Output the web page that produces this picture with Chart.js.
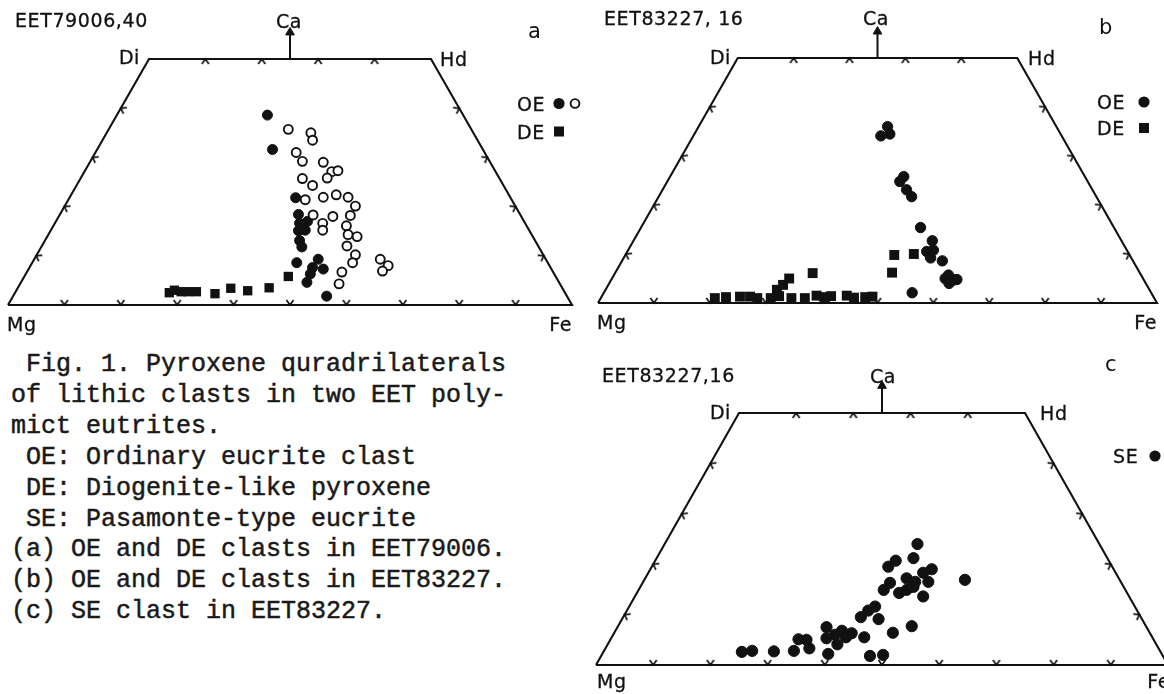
<!DOCTYPE html>
<html>
<head>
<meta charset="utf-8">
<script src="https://cdn.jsdelivr.net/npm/chart.js@4.4.1/dist/chart.umd.min.js"></script>
<style>
html, body { margin: 0; padding: 0; background: #fff; width: 1164px; height: 694px; overflow: hidden; }
body { position: relative; }
canvas { position: absolute; }
.t { position: absolute; font-family: "DejaVu Sans", sans-serif; font-size: 19px; letter-spacing: 0.6px; line-height: 20px; color: #111; white-space: nowrap; -webkit-text-stroke: 0.3px #111; }
.lt { position: absolute; font-family: "DejaVu Sans", sans-serif; font-size: 21px; line-height: 24px; color: #111; }
#cap { position: absolute; left: 11px; top: 350px; margin: 0; font-family: "Liberation Mono", monospace; font-size: 25px; line-height: 30.9px; color: #1a1a1a; -webkit-text-stroke: 0.5px #1a1a1a; }
</style>
</head>
<body>
<pre id="cap"> Fig. 1. Pyroxene quradrilaterals
of lithic clasts in two EET poly-
mict eutrites.
 OE: Ordinary eucrite clast
 DE: Diogenite-like pyroxene
 SE: Pasamonte-type eucrite
(a) OE and DE clasts in EET79006.
(b) OE and DE clasts in EET83227.
(c) SE clast in EET83227.</pre>
<script>
// x = position along Mg-Fe side (0..100), y = Wo (0..50)
const quadX = [0, 25, 75, 100, 0];
const quadY = [0, 50, 50, 0, 0];
const baseTicks = [10, 20, 30, 40, 50, 60, 70, 80, 90];
const topTicks = [35, 45, 55, 65];
const sideTicks = [10, 20, 30, 40];
const Y_MAX = 60;   // room above Wo50 for the Ca arrow

// (a) EET79006,40
const aOeFilled = [[46.0,38.6],[46.9,31.6],[51.0,21.8],[51.5,18.4],[51.7,16.6],[53.1,17.0],[52.7,15.2],[51.5,15.1],[51.7,13.1],[52.1,11.8],[51.2,8.6],[55.0,9.3],[54.0,7.6],[53.6,6.3],[53.0,4.6],[55.9,7.3],[56.5,1.8]];
const aOeOpen = [[49.7,35.7],[53.7,35.0],[54.0,33.5],[51.1,31.0],[52.2,29.2],[55.9,29.0],[57.4,27.1],[58.5,27.3],[56.6,25.8],[52.2,25.7],[54.0,24.3],[52.7,21.4],[55.9,21.9],[58.2,22.4],[60.3,21.9],[61.6,20.1],[54.1,18.3],[57.6,18.0],[55.8,16.6],[55.8,15.2],[60.7,18.2],[60.0,16.1],[60.3,14.3],[61.9,13.9],[60.1,12.0],[61.6,10.2],[61.1,8.6],[59.2,6.7],[58.7,4.3],[66.0,9.3],[67.4,8.0],[66.4,6.9]];
const aDe = [[28.6,2.5],[29.5,3.0],[30.7,2.7],[31.9,2.7],[33.4,2.7],[36.7,2.3],[39.5,3.4],[42.5,2.9],[46.3,3.5],[49.7,5.8]];

// (b) EET83227,16
const bOe = [[50.6,34.1],[51.8,36.0],[52.2,34.5],[54.7,25.8],[54.0,24.8],[55.2,23.1],[56.1,21.7],[57.7,15.4],[59.8,12.7],[58.8,10.5],[59.5,9.2],[60.0,10.8],[61.6,8.6],[62.1,5.0],[62.7,5.7],[63.6,4.7],[62.8,4.0],[64.2,4.8],[56.2,2.1]];
const bDe = [[53.0,9.8],[56.5,10.0],[52.6,6.2],[38.4,6.1],[34.2,5.0],[33.1,3.7],[32.0,2.7],[20.9,1.0],[22.9,1.2],[25.4,1.3],[27.2,1.3],[28.5,1.0],[30.9,1.0],[32.4,1.4],[34.6,1.0],[37.0,1.0],[39.1,1.5],[40.6,1.2],[41.7,1.4],[44.5,1.5],[45.8,1.1],[47.8,1.2],[49.1,1.3]];

// (c) EET83227,16
const cSe = [[56.2,24.0],[55.5,21.2],[52.4,20.7],[51.1,19.5],[58.7,19.0],[57.2,18.3],[58.1,16.5],[54.3,17.2],[55.8,16.5],[51.4,16.3],[50.3,14.9],[53.0,14.3],[54.3,14.9],[55.5,15.5],[57.2,13.6],[64.5,16.9],[48.8,11.6],[47.6,10.8],[46.3,9.5],[49.4,9.1],[55.2,7.7],[51.9,6.4],[46.9,5.5],[40.3,7.5],[43.0,6.8],[44.7,6.3],[43.7,5.5],[40.3,5.3],[41.8,6.0],[42.2,4.1],[40.6,2.2],[47.9,1.8],[50.2,2.0],[35.4,5.1],[36.8,5.0],[37.3,3.3],[34.6,2.8],[31.1,2.7],[27.3,2.8],[25.5,2.6]];

const INK = '#111';
const pts = arr => arr.map(p => ({x: p[0], y: p[1]}));

// small "v" tick, vertex at centre, arms pointing up
const tickImg = document.createElement('canvas');
tickImg.width = 14; tickImg.height = 14;
(function () {
  const c = tickImg.getContext('2d');
  c.strokeStyle = INK; c.lineWidth = 1.7; c.lineJoin = 'miter';
  c.beginPath(); c.moveTo(3.5, 2); c.lineTo(7, 7); c.lineTo(10.5, 2); c.stroke();
})();

function frameSets(p) {
  // tilt of the slanted sides, in degrees from vertical
  const tilt = Math.atan2((p.fe - p.mg) / 4, p.base - p.lineTop) * 180 / Math.PI;
  const tick = (data, rot) => ({
    data, pointStyle: tickImg, pointRadius: 3, rotation: rot, clip: false
  });
  return [
    tick(baseTicks.map(v => ({x: v, y: 0})), 0),
    tick(topTicks.map(v => ({x: v, y: 50})), 180),
    tick(sideTicks.map(v => ({x: v / 2, y: v})), 90 + tilt),
    tick(sideTicks.map(v => ({x: 100 - v / 2, y: v})), -90 - tilt),
    { data: [{x: 50, y: 55.4}], pointStyle: 'triangle', pointRadius: 5, backgroundColor: INK, borderColor: INK, borderWidth: 1, clip: false },
    { data: [{x: 50, y: 50}, {x: 50, y: 55}], showLine: true, pointRadius: 0, borderColor: INK, borderWidth: 2, clip: false },
    { data: quadX.map((v, i) => ({x: v, y: quadY[i]})), showLine: true, pointRadius: 0, borderColor: INK, borderWidth: 2.1, clip: false }
  ];
}

const markPlugin = {
  id: 'marks',
  afterDatasetsDraw(chart, args, opts) {
    const ctx = chart.ctx;
    const off = opts.offset;
    ctx.save();
    ctx.fillStyle = INK; ctx.strokeStyle = INK;
    (opts.items || []).forEach(m => {
      const x = m[1] - off[0], y = m[2] - off[1];
      ctx.beginPath();
      if (m[0] === 'dot') { ctx.arc(x, y, 5.6, 0, Math.PI * 2); ctx.fill(); }
      if (m[0] === 'ring') { ctx.lineWidth = 1.9; ctx.arc(x, y, 4.4, 0, Math.PI * 2); ctx.stroke(); }
      if (m[0] === 'sq') { ctx.fillRect(x - m[3] / 2, y - m[3] / 2, m[3], m[3]); }
    });
    ctx.restore();
  }
};

function panel(p, sets) {
  const cv = document.createElement('canvas');
  cv.width = p.w; cv.height = p.h;
  cv.style.left = p.left + 'px'; cv.style.top = p.top + 'px';
  cv.style.width = p.w + 'px'; cv.style.height = p.h + 'px';
  document.body.appendChild(cv);
  const areaTop = p.base - (p.base - p.lineTop) * Y_MAX / 50;
  new Chart(cv, {
    type: 'scatter',
    data: { datasets: sets.concat(frameSets(p)) },
    options: {
      responsive: false, animation: false, events: [], devicePixelRatio: 1,
      layout: { autoPadding: false, padding: {
        left: p.mg - p.left, right: p.left + p.w - p.fe,
        top: areaTop - p.top, bottom: p.top + p.h - p.base } },
      scales: {
        x: { type: 'linear', min: 0, max: 100, display: false },
        y: { type: 'linear', min: 0, max: Y_MAX, display: false }
      },
      plugins: { legend: { display: false }, tooltip: { enabled: false },
        marks: { offset: [p.left, p.top], items: p.marks } }
    },
    plugins: [markPlugin]
  });
}

const filled = (arr, r) => ({ data: pts(arr), pointStyle: 'circle', pointRadius: r, backgroundColor: INK, borderColor: INK, borderWidth: 1, clip: false });
const open = (arr, r) => ({ data: pts(arr), pointStyle: 'circle', pointRadius: r, backgroundColor: '#fff', borderColor: INK, borderWidth: 1.9, clip: false });
const square = (arr, r) => ({ data: pts(arr), pointStyle: 'rect', pointRadius: r, backgroundColor: INK, borderColor: INK, borderWidth: 0, clip: false });

panel({ left: 0, top: 0, w: 585, h: 345, mg: 8, fe: 572, lineTop: 59, base: 305,
  marks: [['dot', 559, 103.5], ['ring', 575, 103.5], ['sq', 559, 131.5, 10]] },
  [open(aOeOpen, 4.5), filled(aOeFilled, 5), square(aDe, 6.6)]);

panel({ left: 585, top: 0, w: 579, h: 345, mg: 598, fe: 1157, lineTop: 58, base: 303,
  marks: [['dot', 1144, 102], ['sq', 1144, 128, 10]] },
  [filled(bOe, 5.2), square(bDe, 7)]);

panel({ left: 585, top: 345, w: 615, h: 349, mg: 596, fe: 1168, lineTop: 413, base: 665,
  marks: [['dot', 1155, 456]] },
  [filled(cSe, 5.6)]);

const labels = [
  ['EET79006,40', 15, 20, 'l'], ['Ca', 289, 21, 'c'], ['a', 528, 31, 'l', 1],
  ['Di', 140, 57, 'r'], ['Hd', 440, 59, 'l'], ['Mg', 7, 324, 'l'], ['Fe', 572, 324, 'r'],
  ['OE', 517, 103.5, 'l'], ['DE', 517, 131.5, 'l'],
  ['EET83227, 16', 604, 18, 'l'], ['Ca', 876, 18, 'c'], ['b', 1099, 27, 'l', 1],
  ['Di', 731, 57, 'r'], ['Hd', 1028, 58, 'l'], ['OE', 1097, 102, 'l'], ['DE', 1097, 128, 'l'],
  ['Mg', 597, 322, 'l'], ['Fe', 1157, 322, 'r'],
  ['EET83227,16', 602, 375, 'l'], ['Ca', 883, 376, 'c'], ['c', 1105, 364, 'l', 1],
  ['Di', 731, 412, 'r'], ['Hd', 1040, 413, 'l'], ['SE', 1113, 456, 'l'],
  ['Mg', 597, 681, 'l'], ['Fe', 1170, 681, 'r']
];
const shift = { l: '0', c: '-50%', r: '-100%' };
labels.forEach(l => {
  const d = document.createElement('div');
  d.className = l[4] ? 'lt' : 't';
  d.textContent = l[0];
  d.style.left = l[1] + 'px';
  d.style.top = l[2] + 'px';
  d.style.transform = 'translate(' + shift[l[3]] + ',-50%)';
  document.body.appendChild(d);
});
</script>
</body>
</html>
